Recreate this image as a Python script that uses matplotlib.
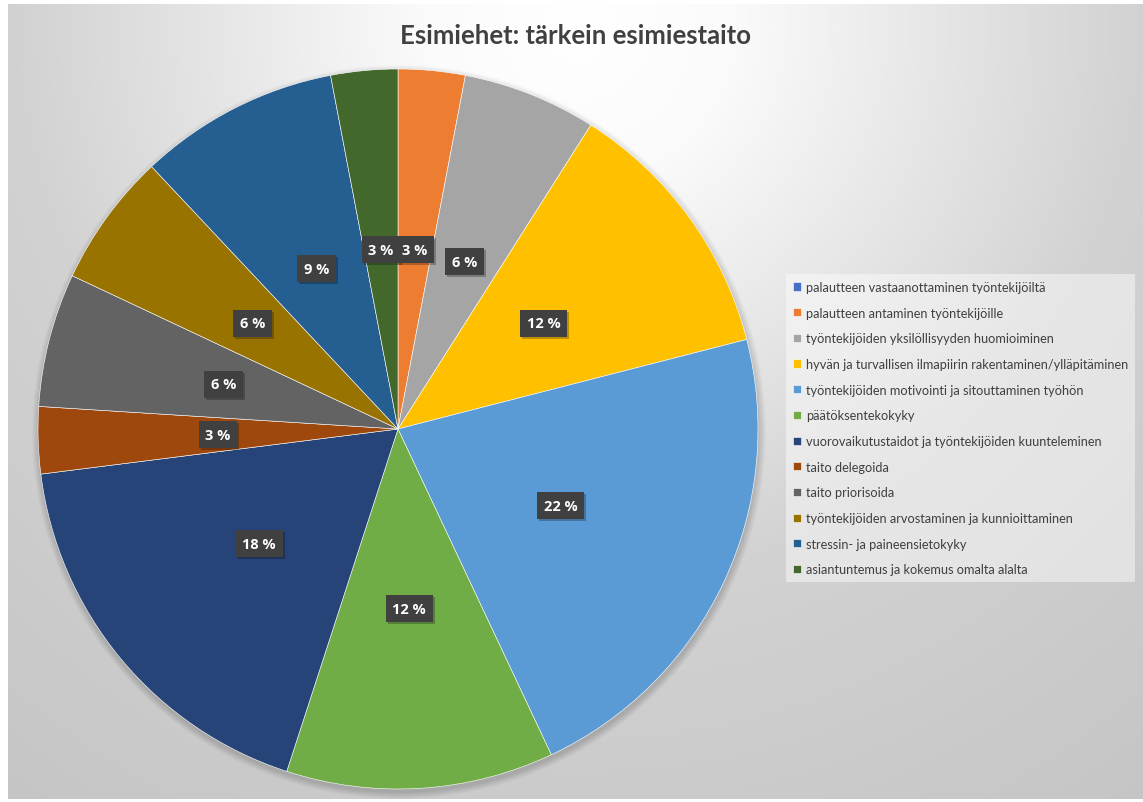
import numpy as np
import matplotlib
matplotlib.use("Agg")
import matplotlib.pyplot as plt
from matplotlib.patches import Circle

categories = [
    "palautteen vastaanottaminen työntekijöiltä",
    "palautteen antaminen työntekijöille",
    "työntekijöiden yksilöllisyyden huomioiminen",
    "hyvän ja turvallisen ilmapiirin rakentaminen/ylläpitäminen",
    "työntekijöiden motivointi ja sitouttaminen työhön",
    "päätöksentekokyky",
    "vuorovaikutustaidot ja työntekijöiden kuunteleminen",
    "taito delegoida",
    "taito priorisoida",
    "työntekijöiden arvostaminen ja kunnioittaminen",
    "stressin- ja paineensietokyky",
    "asiantuntemus ja kokemus omalta alalta",
]
values = [0, 3, 6, 12, 22, 12, 18, 3, 6, 6, 9, 3]
colors = ["#4472C4", "#ED7D31", "#A5A5A5", "#FFC000", "#5B9BD5", "#70AD47",
          "#264478", "#9E480E", "#636363", "#997300", "#255E91", "#43682B"]
title = "Esimiehet: tärkein esimiestaito"

W, H = 1143, 803
fig = plt.figure(figsize=(W / 100, H / 100), dpi=100)
fig.patch.set_facecolor("white")

# background gradient (chart area)
x0, y0, x1, y1 = 8, 5, 1143, 800
bw, bh = x1 - x0, y1 - y0
bg = fig.add_axes([x0 / W, 1 - y1 / H, bw / W, bh / H])
yy, xx = np.mgrid[0:bh, 0:bw]
d = np.hypot(xx - 570, (yy - 20) * 1.0)
v = np.interp(d, [0, 150, 560, 1000], [255, 251, 210, 196]) / 255.0
img = np.dstack([v, v, v])
bg.imshow(img, aspect="auto", extent=[0, bw, bh, 0])
bg.set_axis_off()

ax = fig.add_axes([0, 0, 1, 1])
ax.set_xlim(0, W)
ax.set_ylim(0, H)
ax.set_aspect("equal")
ax.set_axis_off()
ax.patch.set_alpha(0)

cx, cy, R = 398, H - 430, 360

# soft shadow
for i in range(12):
    ax.add_patch(Circle((cx + 1, cy - 3), R + 7 - i * 0.6, color="black",
                        alpha=0.012, lw=0, zorder=1))

wedges, _ = ax.pie(values, colors=colors, startangle=90, counterclock=False,
                   radius=R, center=(cx, cy), frame=True,
                   wedgeprops=dict(edgecolor="white", linewidth=0.4, zorder=2))
ax.set_xlim(0, W)
ax.set_ylim(0, H)
ax.set_axis_off()

total = sum(values)
cum = 0
for val in values:
    mid = (cum + val / 2) / total * 360
    cum += val
    if val == 0:
        continue
    ang = np.deg2rad(90 - mid)
    lx = cx + 0.5 * R * np.cos(ang)
    ly = cy + 0.5 * R * np.sin(ang)
    txt = f"{val} %"
    # shadow
    ax.text(lx + 2, ly - 2, txt, ha="center", va="center", fontsize=10.5,
            fontweight="bold", family="Open Sans", color=(0, 0, 0, 0),
            bbox=dict(boxstyle="square,pad=0.45", fc="black", ec="none", alpha=0.25),
            zorder=4)
    ax.text(lx, ly, txt, ha="center", va="center", fontsize=10.5,
            fontweight="bold", family="Open Sans", color="white",
            bbox=dict(boxstyle="square,pad=0.45", fc="#404040", ec="none"),
            zorder=5)

fig.text(576 / W, 1 - 36 / H, title, ha="center", va="center", fontsize=18.5,
         fontweight="bold", family="Lato", color="#404040")

leg = fig.legend(wedges, categories, loc="upper left",
                 bbox_to_anchor=(786 / W, 1 - 275 / H),
                 frameon=True, fancybox=False,
                 prop=dict(family="Lato", size=9.2),
                 handlelength=0.6, handleheight=0.6, handletextpad=0.4,
                 labelspacing=1.07, borderpad=0.55, borderaxespad=0)
fr = leg.get_frame()
fr.set_facecolor("white")
fr.set_alpha(0.45)
fr.set_edgecolor("none")
for t in leg.get_texts():
    t.set_color("#404040")

fig.savefig("out.png", dpi=100, facecolor="white")
